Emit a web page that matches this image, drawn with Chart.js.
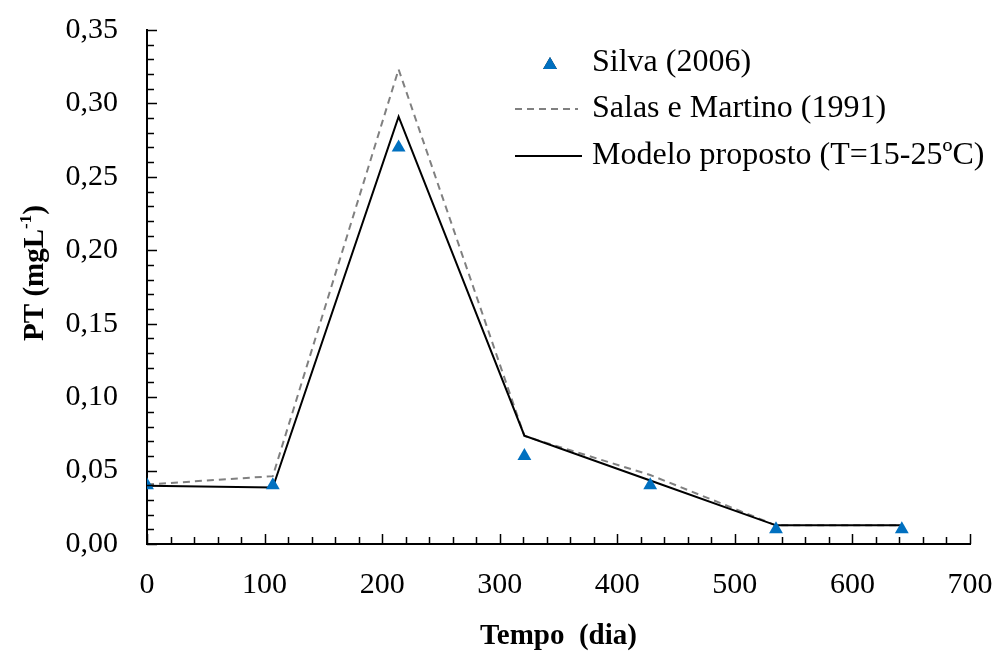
<!DOCTYPE html>
<html>
<head>
<meta charset="utf-8">
<script src="https://cdn.jsdelivr.net/npm/chart.js@4.4.1/dist/chart.umd.min.js"></script>
<style>
  html, body { margin: 0; padding: 0; background: #fff; }
  #wrap { width: 997px; height: 655px; }
</style>
</head>
<body>
<div id="wrap"><canvas id="grafica"></canvas></div>
<script>
// tempo (dia)
const tempo = [0, 107, 214, 321, 428, 535, 642];
// PT (mg/L)
const silva = [0.04, 0.04, 0.27, 0.06, 0.04, 0.01, 0.01];
const salas = [0.0405, 0.0462, 0.3232, 0.0735, 0.047, 0.0127, 0.0127];
const modelo = [0.0397, 0.0384, 0.291, 0.0738, 0.0432, 0.0127, 0.0127];
const xTicks = [0, 100, 200, 300, 400, 500, 600, 700];
const yTicks = [0, 0.05, 0.10, 0.15, 0.20, 0.25, 0.30, 0.35];

const fuente = "'Liberation Serif', 'Times New Roman', serif";
const azul = "#0070C0";

function puntos(ys) {
  return tempo.map((t, i) => ({ x: t, y: ys[i] }));
}

// marcas hacia adentro, titulo Y con superindice y leyenda
const extras = {
  id: "extras",
  afterDraw(chart) {
    const { ctx, chartArea: a } = chart;
    const sx = chart.scales.x;
    const sy = chart.scales.y;
    ctx.save();
    ctx.strokeStyle = "#000";
    ctx.lineWidth = 1.5;
    ctx.beginPath();
    for (let v = 0; v <= 35; v++) {
      const py = Math.round(sy.getPixelForValue(v / 100)) + 0.5;
      const len = v % 5 === 0 ? 10 : 7;
      ctx.moveTo(a.left, py);
      ctx.lineTo(a.left + len, py);
    }
    for (let v = 0; v <= 700; v += 20) {
      const px = Math.round(sx.getPixelForValue(v)) + 0.5;
      const len = v % 100 === 0 ? 10 : 7;
      ctx.moveTo(px, a.bottom);
      ctx.lineTo(px, a.bottom - len);
    }
    ctx.stroke();

    // titulo eje Y
    ctx.fillStyle = "#000";
    ctx.translate(43, 273);
    ctx.rotate(-Math.PI / 2);
    ctx.textBaseline = "alphabetic";
    const f1 = "bold 29px " + fuente;
    const f2 = "bold 17px " + fuente;
    const partes = [["PT (mgL", f1, 0], ["-1", f2, -12], [")", f1, 0]];
    let total = 0;
    partes.forEach((p) => { ctx.font = p[1]; total += ctx.measureText(p[0]).width; });
    let x0 = -total / 2;
    partes.forEach((p) => {
      ctx.font = p[1];
      ctx.fillText(p[0], x0, p[2]);
      x0 += ctx.measureText(p[0]).width;
    });
    ctx.restore();

    // leyenda: Silva, Salas, Modelo
    ctx.save();
    ctx.font = "32px " + fuente;
    ctx.fillStyle = "#000";
    ctx.textBaseline = "middle";
    const tx = 592;
    const filas = [0, 2, 1];
    filas.forEach((idx, fila) => {
      const ds = chart.data.datasets[idx];
      const yy = [63, 109, 156][fila];
      if (ds.showLine) {
        ctx.strokeStyle = ds.borderColor;
        ctx.lineWidth = ds.borderWidth;
        ctx.setLineDash(ds.borderDash || []);
        ctx.beginPath();
        ctx.moveTo(515, yy);
        ctx.lineTo(ds.borderDash ? 578 : 582, yy);
        ctx.stroke();
        ctx.setLineDash([]);
      } else {
        Chart.helpers.drawPoint(ctx, { pointStyle: "triangle", radius: 8, borderWidth: 0 }, 550, yy + 2);
        ctx.fillStyle = azul;
        ctx.fill();
        ctx.fillStyle = "#000";
      }
      ctx.fillText(ds.label, tx, yy);
    });
    ctx.restore();
  },
};

new Chart(document.getElementById("grafica"), {
  type: "scatter",
  data: {
    datasets: [
      {
        label: "Silva (2006)",
        data: puntos(silva),
        showLine: false,
        pointStyle: "triangle",
        pointRadius: 8,
        pointBackgroundColor: azul,
        pointBorderWidth: 0,
      },
      {
        label: "Modelo proposto (T=15-25ºC)",
        data: puntos(modelo),
        showLine: true,
        borderColor: "#000",
        borderWidth: 2,
        pointRadius: 0,
      },
      {
        label: "Salas e Martino (1991)",
        data: puntos(salas),
        showLine: true,
        borderColor: "#808080",
        borderWidth: 2,
        borderDash: [7, 5],
        pointRadius: 0,
      },
    ],
  },
  options: {
    responsive: true,
    maintainAspectRatio: false,
    animation: false,
    layout: { padding: { top: 30, right: 27, left: 0, bottom: 0 } },
    plugins: {
      legend: { display: false },
      tooltip: { enabled: false },
    },
    scales: {
      x: {
        type: "linear",
        min: 0,
        max: 700,
        afterFit: (s) => {
          s.height = 111;
          s.paddingLeft = 0;
          s.paddingRight = 0;
        },
        afterBuildTicks: (s) => { s.ticks = xTicks.map((v) => ({ value: v })); },
        grid: { display: false, drawTicks: false },
        border: { display: true, color: "#000", width: 2 },
        ticks: {
          color: "#000",
          padding: 23,
          font: { family: fuente, size: 30 },
        },
        title: {
          display: true,
          text: "Tempo  (dia)",
          color: "#000",
          font: { family: fuente, size: 29, weight: "bold" },
          padding: { bottom: 1 },
        },
      },
      y: {
        type: "linear",
        min: 0,
        max: 0.35,
        afterFit: (s) => {
          s.width = 147;
          s.paddingTop = 0;
          s.paddingBottom = 0;
        },
        afterBuildTicks: (s) => { s.ticks = yTicks.map((v) => ({ value: v })); },
        grid: { display: false, drawTicks: false },
        border: { display: true, color: "#000", width: 2 },
        ticks: {
          color: "#000",
          padding: 29,
          font: { family: fuente, size: 30 },
          callback: (v) => v.toFixed(2).replace(".", ","),
        },
      },
    },
  },
  plugins: [extras],
});
</script>
</body>
</html>
